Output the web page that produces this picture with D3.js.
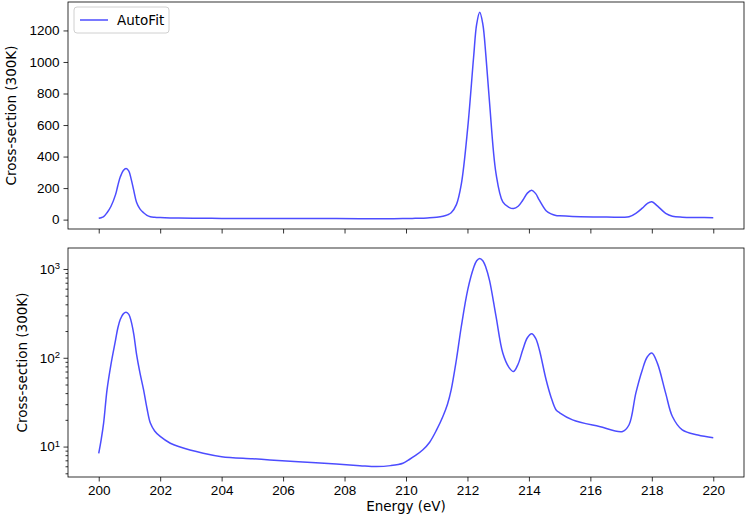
<!DOCTYPE html>
<html>
<head>
<meta charset="utf-8">
<script src="https://cdn.jsdelivr.net/npm/d3@7"></script>
<style>
  body { margin: 0; background: #fff; }
  svg { display: block; font-family: "DejaVu Sans", sans-serif; }
</style>
</head>
<body>
<div id="chart-container"></div>
<script>
const width = 747;
const height = 517;

// Energy (eV) and fitted cross-section
const energy = [
  200.00, 200.08, 200.16, 200.27, 200.40, 200.55, 200.62, 200.70, 200.80, 200.89,
  200.98, 201.05, 201.14, 201.23, 201.34, 201.46, 201.57, 201.68, 201.82, 202.00,
  202.33, 202.60, 203.40, 204.00, 205.00, 205.57, 206.50, 207.73, 208.50, 209.04,
  209.50, 209.90, 210.12, 210.30, 210.55, 210.77, 211.00, 211.20, 211.35, 211.47,
  211.64, 211.80, 212.01, 212.20, 212.30, 212.40, 212.50, 212.60, 212.72, 212.93,
  213.15, 213.35, 213.50, 213.65, 213.80, 213.95, 214.09, 214.22, 214.34, 214.56,
  214.72, 214.88, 215.00, 215.42, 216.29, 217.05, 217.26, 217.48, 217.69, 217.85,
  218.00, 218.18, 218.45, 218.67, 218.99, 219.50, 220.00
];
const xsec = [
  8.4, 12, 18.5, 43.5, 85, 160, 215, 270, 312, 325,
  308, 262, 185, 110, 68, 43.5, 27, 18.4, 15, 13,
  10.9, 10, 8.4, 7.7, 7.3, 7.08, 6.75, 6.38, 6.1, 5.95,
  6.1, 6.5, 7.2, 7.9, 9.2, 11.2, 15.5, 21.8, 30, 43.5,
  95, 225, 585, 1030, 1240, 1315, 1240, 1040, 740, 292,
  113, 78, 70, 85, 123, 168, 186, 165, 123, 56.5,
  36, 26, 24, 20, 16.8, 14.8, 17.6, 40, 73, 102,
  113, 87, 40, 21.8, 15.4, 13.5, 12.6
];

const xTicks = d3.range(200, 221, 2);
const yTicksLin = [0, 200, 400, 600, 800, 1000, 1200];
const yTicksLog = [10, 100, 1000];

const data = energy.map((e, i) => ({ e, v: xsec[i] }));

const left = 68, right = 744;
const top1 = 2, bot1 = 229;
const top2 = 248, bot2 = 477;
const lineColor = "rgba(0,0,255,0.7)";

const svg = d3.select("#chart-container")
  .append("svg")
  .attr("width", width)
  .attr("height", height)
  .attr("viewBox", [0, 0, width, height]);

const [xmin, xmax] = d3.extent(energy);
const xpad = (xmax - xmin) * 0.05;
const x = d3.scaleLinear([xmin - xpad, xmax + xpad], [left, right]);

const [vmin, vmax] = d3.extent(xsec);
const ypad = (vmax - vmin) * 0.05;
const y1 = d3.scaleLinear([vmin - ypad, vmax + ypad], [bot1, top1]);

const lmin = Math.log10(vmin), lmax = Math.log10(vmax);
const lpad = (lmax - lmin) * 0.05;
const y2 = d3.scaleLog([10 ** (lmin - lpad), 10 ** (lmax + lpad)], [bot2, top2]);

const curve = d3.curveCatmullRom.alpha(0.5);

function styleAxis(g) {
  g.select(".domain").remove();
  g.selectAll(".tick line").attr("stroke", "#000").attr("stroke-width", 0.8);
  g.selectAll(".tick text").attr("fill", "#000").attr("font-size", 13.5);
}

// top panel (linear)
svg.append("g")
  .attr("transform", `translate(0,${bot1})`)
  .call(d3.axisBottom(x).tickValues(xTicks).tickSize(4.5).tickFormat(""))
  .call(styleAxis);

svg.append("g")
  .attr("transform", `translate(${left},0)`)
  .call(d3.axisLeft(y1).tickValues(yTicksLin).tickSize(4.5).tickPadding(4).tickFormat(d3.format("d")))
  .call(styleAxis);

svg.append("path")
  .datum(data)
  .attr("fill", "none")
  .attr("stroke", lineColor)
  .attr("stroke-width", 1.5)
  .attr("d", d3.line().x(d => x(d.e)).y(d => y1(d.v)).curve(curve));

svg.append("rect")
  .attr("x", left).attr("y", top1)
  .attr("width", right - left).attr("height", bot1 - top1)
  .attr("fill", "none").attr("stroke", "#000").attr("stroke-width", 0.8);

// legend
const lg = svg.append("g").attr("transform", `translate(${left + 6},${top1 + 5})`);
lg.append("rect")
  .attr("width", 95).attr("height", 26).attr("rx", 3)
  .attr("fill", "#fff").attr("stroke", "#d0d0d0").attr("stroke-width", 1);
lg.append("line")
  .attr("x1", 6).attr("x2", 34).attr("y1", 13).attr("y2", 13)
  .attr("stroke", lineColor).attr("stroke-width", 1.5);
lg.append("text")
  .attr("x", 43).attr("y", 18)
  .attr("font-size", 13.5).text("AutoFit");

svg.append("text")
  .attr("transform", `translate(16,${(top1 + bot1) / 2}) rotate(-90)`)
  .attr("text-anchor", "middle")
  .attr("font-size", 13.5)
  .text("Cross-section (300K)");

// bottom panel (log)
svg.append("g")
  .attr("transform", `translate(0,${bot2})`)
  .call(d3.axisBottom(x).tickValues(xTicks).tickSize(4.5).tickPadding(4).tickFormat(d3.format("d")))
  .call(styleAxis);

const [d0, d1] = y2.domain();
const minor = [];
for (let k = Math.floor(Math.log10(d0)); k <= Math.ceil(Math.log10(d1)); k++) {
  for (let m = 2; m <= 9; m++) {
    const v = m * 10 ** k;
    if (v >= d0 && v <= d1) minor.push(v);
  }
}
svg.append("g")
  .attr("transform", `translate(${left},0)`)
  .call(d3.axisLeft(y2).tickValues(minor).tickSize(2.5).tickFormat(""))
  .call(styleAxis);

const yAxis2 = svg.append("g")
  .attr("transform", `translate(${left},0)`)
  .call(d3.axisLeft(y2).tickValues(yTicksLog).tickSize(4.5).tickPadding(4).tickFormat(""))
  .call(styleAxis);
yAxis2.selectAll(".tick").append("text")
  .attr("x", -8).attr("dy", "0.32em")
  .attr("text-anchor", "end")
  .attr("fill", "#000")
  .attr("font-size", 13.5)
  .call(t => t.append("tspan").text("10"))
  .call(t => t.append("tspan")
    .attr("dy", "-0.5em").attr("font-size", 9.5)
    .text(d => Math.round(Math.log10(d))));

svg.append("path")
  .datum(data)
  .attr("fill", "none")
  .attr("stroke", lineColor)
  .attr("stroke-width", 1.5)
  .attr("d", d3.line().x(d => x(d.e)).y(d => y2(d.v)).curve(curve));

svg.append("rect")
  .attr("x", left).attr("y", top2)
  .attr("width", right - left).attr("height", bot2 - top2)
  .attr("fill", "none").attr("stroke", "#000").attr("stroke-width", 0.8);

svg.append("text")
  .attr("transform", `translate(27,${(top2 + bot2) / 2}) rotate(-90)`)
  .attr("text-anchor", "middle")
  .attr("font-size", 13.5)
  .text("Cross-section (300K)");

svg.append("text")
  .attr("x", (left + right) / 2)
  .attr("y", 511)
  .attr("text-anchor", "middle")
  .attr("font-size", 13.5)
  .text("Energy (eV)");
</script>
</body>
</html>
